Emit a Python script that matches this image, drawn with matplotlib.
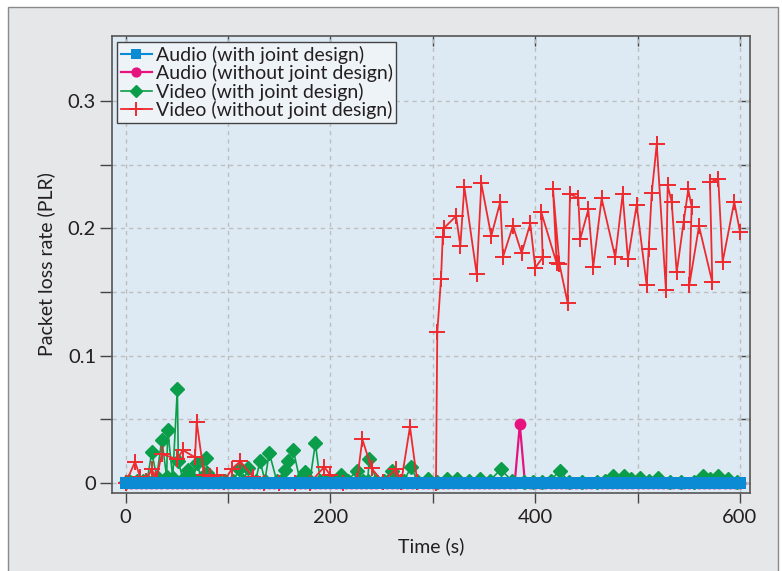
import matplotlib
matplotlib.use("Agg")
import matplotlib.pyplot as plt
from matplotlib.patches import Rectangle
from matplotlib.ticker import FixedLocator, FixedFormatter, NullFormatter

plt.rcParams['font.family'] = ['Lato', 'DejaVu Sans']

# ---------------- data ----------------
audio_time = list(range(0, 601, 5))
audio_joint_plr = [0.0] * len(audio_time)
audio_nojoint_spikes = {385: 0.046}
audio_nojoint_plr = [audio_nojoint_spikes.get(t, 0.0) for t in audio_time]

video_joint_time = [0, 3, 10.8, 17.3, 21, 25.5, 30.4, 35.3, 40.1, 41.1, 46, 50.5, 51.5, 56,
                    61.2, 66, 69.4, 74, 78.5, 79.2, 85.6, 91, 97, 105.2, 111, 115, 119.8, 127,
                    131.3, 136, 140.3, 147.5, 152, 155.7, 158.9, 163.8, 170, 175.2, 180, 185.3,
                    190, 196, 203, 210.4, 217, 225.7, 232, 236.4, 238, 245, 252, 259.9, 266,
                    272, 278.7, 285, 295.6, 304, 313.6, 323.9, 335, 346.1, 356, 366.3, 377,
                    389, 398, 407, 415, 424, 433, 446, 460, 468, 476, 486.7, 494, 502, 511,
                    520, 531.6, 542, 555, 564, 571, 578.8, 588.6, 597]
video_joint_plr = [0.001, 0.002, 0.002, 0.002, 0.002, 0.024, 0.005, 0.034, 0.005, 0.042, 0.004,
                   0.074, 0.017, 0.003, 0.010, 0.003, 0.0155, 0.004, 0.0194, 0.0076, 0.002,
                   0.002, 0.002, 0.002, 0.0107, 0.002, 0.0115, 0.002, 0.0175, 0.002, 0.0238,
                   0.002, 0.002, 0.0102, 0.0175, 0.0259, 0.003, 0.009, 0.002, 0.0312, 0.002,
                   0.002, 0.002, 0.0065, 0.002, 0.0097, 0.002, 0.002, 0.0186, 0.002, 0.002,
                   0.0097, 0.002, 0.002, 0.0123, 0.002, 0.0031, 0.001, 0.0031, 0.0031, 0.002,
                   0.0031, 0.002, 0.0108, 0.002, 0.0005, 0.001, 0.001, 0.002, 0.0097, 0.001,
                   0.001, 0.001, 0.002, 0.0055, 0.0055, 0.003, 0.0037, 0.002, 0.004, 0.001,
                   0.001, 0.001, 0.0055, 0.003, 0.0055, 0.003, 0.001]

video_nojoint_time = [0, 9.2, 14.1, 20, 25.5, 30, 35.3, 50.5, 55.8, 67.8, 69.4, 76.6, 82.4,
                      89.6, 96, 103.6, 112, 124.7, 135, 150, 165, 180, 194, 200, 212, 226,
                      231.2, 240.3, 251, 264, 269.2, 277.7, 284.9, 303.1, 304.4, 308.0, 309.7,
                      311.2, 322.7, 326.9, 330.8, 342.9, 347.4, 357.1, 365.9, 368.6, 378.3,
                      386.8, 395.2, 400.1, 407.3, 406.0, 421.0, 417.4, 423.7, 431.7, 434.0,
                      442.1, 444.0, 451.9, 456.7, 464.9, 478.2, 485.4, 490.6, 499.1, 508.9,
                      510.8, 513.8, 518.7, 527.7, 529.4, 533.3, 538.2, 545.0, 549.5, 552.8,
                      550.5, 560.0, 573.0, 570.7, 578.8, 583.1, 594.4, 600.0]
video_nojoint_plr = [0, 0.0167, 0.005, 0.002, 0.011, 0.003, 0.0228, 0.0186, 0.0259, 0.0202,
                     0.0481, 0.0063, 0.0055, 0.0063, 0.001, 0.011, 0.0171, 0.0045, 0, 0, 0, 0,
                     0.0128, 0.006, 0, 0.002, 0.0343, 0.0115, 0.001, 0.0108, 0.001, 0.0442,
                     0.001, 0, 0.1183, 0.1601, 0.1929, 0.2004, 0.2096, 0.1863, 0.2326, 0.1638,
                     0.2352, 0.1939, 0.2208, 0.1776, 0.2020, 0.1805, 0.2038, 0.1690, 0.1772,
                     0.2125, 0.1725, 0.2308, 0.1719, 0.1415, 0.2268, 0.2239, 0.1915, 0.2148,
                     0.1698, 0.2235, 0.1772, 0.2266, 0.1756, 0.2184, 0.1552, 0.1834, 0.2274,
                     0.2661, 0.1515, 0.2339, 0.2208, 0.1654, 0.2051, 0.2305, 0.2169, 0.1552,
                     0.2017, 0.1575, 0.2360, 0.2386, 0.1737, 0.2208, 0.1973]

labels = ["Audio (with joint design)", "Audio (without joint design)",
          "Video (with joint design)", "Video (without joint design)"]
x_major = [0, 200, 400, 600]
x_minor = [100, 300, 500]
y_major = [0, 0.1, 0.2, 0.3]
y_major_labels = ["0", "0.1", "0.2", "0.3"]
y_minor = [0.05, 0.15, 0.25]

# ---------------- figure ----------------
W, H = 782, 571
fig = plt.figure(figsize=(W / 100, H / 100), dpi=100, facecolor='white')
fig.patches.append(Rectangle((8 / W, -0.02), (778 - 8) / W, (571 - 7) / H + 0.02,
                             transform=fig.transFigure, facecolor='#e6e7e8',
                             edgecolor='#8a8a8a', lw=1.0, zorder=-10))

ax = fig.add_axes([112 / W, 78 / H, 638 / W, 457 / H])
ax.set_facecolor('#ddeaf4')

c_blue = '#0a8bd3'
c_mag = '#e6137f'
c_green = '#0a9e4b'
c_red = '#ee2a2f'

l2, = ax.plot(audio_time, audio_nojoint_plr, color=c_mag, lw=1.6, marker='o',
              markersize=7.5, zorder=3, label=labels[1])
l3, = ax.plot(video_joint_time, video_joint_plr, color=c_green, lw=1.2, marker='D',
              markersize=6.8, zorder=4, label=labels[2])
l4, = ax.plot(video_nojoint_time, video_nojoint_plr, color=c_red, lw=1.3, marker='+',
              markersize=12, markeredgewidth=1.4, zorder=5, label=labels[3])
l1, = ax.plot(audio_time, audio_joint_plr, color=c_blue, lw=1.5, marker='s',
              markersize=9.2, markeredgewidth=0, zorder=6, label=labels[0])

ax.set_xlim(-13.3, 609.8)
ax.set_ylim(-0.0078, 0.351)

ax.xaxis.set_major_locator(FixedLocator(x_major))
ax.xaxis.set_minor_locator(FixedLocator(x_minor))
ax.yaxis.set_major_locator(FixedLocator(y_major))
ax.yaxis.set_major_formatter(FixedFormatter(y_major_labels))
ax.yaxis.set_minor_locator(FixedLocator(y_minor))
ax.xaxis.set_minor_formatter(NullFormatter())
ax.yaxis.set_minor_formatter(NullFormatter())

tc = '#231f20'
ax.tick_params(axis='both', which='both', direction='out', length=7.5, width=1.0,
               color='#444444', labelsize=14.5, labelcolor=tc)
ax.tick_params(axis='x', which='both', pad=4)
ax.tick_params(axis='y', which='both', pad=2.5, length=9)

ax.grid(True, which='both', color='#bdbdbd', linestyle=(0, (3, 3)), linewidth=1.0)
ax.set_axisbelow(True)

for s in ax.spines.values():
    s.set_color('#555555')
    s.set_linewidth(1.2)

sx = ax.secondary_xaxis('top')
sx.xaxis.set_major_locator(FixedLocator(x_major + x_minor))
sx.tick_params(direction='in', length=7, width=1.0, color='#444444', labeltop=False)
sx.spines['top'].set_visible(False)
sy = ax.secondary_yaxis('right')
sy.yaxis.set_major_locator(FixedLocator(y_major + y_minor))
sy.tick_params(direction='in', length=9, width=1.0, color='#444444', labelright=False)
sy.spines['right'].set_visible(False)

ax.set_xlabel("Time (s)", fontsize=14, color=tc, labelpad=8)
ax.set_ylabel("Packet loss rate (PLR)", fontsize=14, color=tc, labelpad=9)

leg = ax.legend(handles=[l1, l2, l3, l4], labels=labels, loc='upper left',
                bbox_to_anchor=(0.0074, 0.9875), fontsize=14, frameon=True, fancybox=False,
                framealpha=1.0, facecolor='#eef3f8', edgecolor='#444444',
                handlelength=1.6, handletextpad=0.2, borderpad=0.2, labelspacing=0.02,
                borderaxespad=0.0, markerscale=0.85)
leg.get_frame().set_linewidth(1.0)
for t in leg.get_texts():
    t.set_color(tc)

fig.savefig("out.png", dpi=100, facecolor='white')
